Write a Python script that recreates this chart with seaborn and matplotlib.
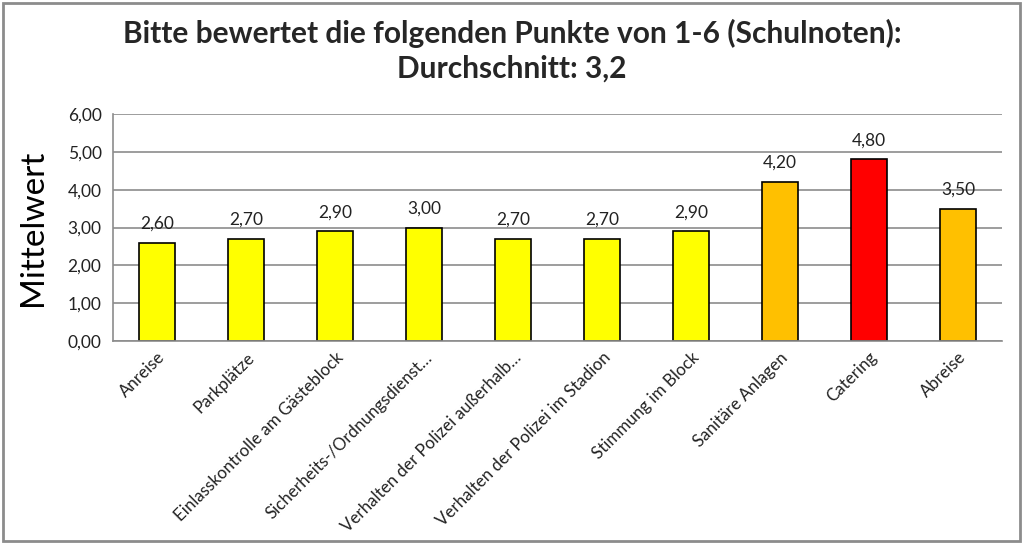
import matplotlib
matplotlib.use("Agg")
import matplotlib.pyplot as plt
import seaborn as sns
import pandas as pd
from matplotlib.patches import Rectangle

categories = ["Anreise", "Parkplätze", "Einlasskontrolle am Gästeblock",
              "Sicherheits-/Ordnungsdienst…", "Verhalten der Polizei außerhalb…",
              "Verhalten der Polizei im Stadion", "Stimmung im Block",
              "Sanitäre Anlagen", "Catering", "Abreise"]
values = [2.60, 2.70, 2.90, 3.00, 2.70, 2.70, 2.90, 4.20, 4.80, 3.50]
bar_colors = ["#FFFF00"] * 7 + ["#FFC000", "#FF0000", "#FFC000"]
yticks = [0, 1, 2, 3, 4, 5, 6]

sns.set_theme(style="white")
plt.rcParams['font.family'] = ['Lato', 'DejaVu Sans']

df = pd.DataFrame({"cat": categories, "val": values})

fig = plt.figure(figsize=(10.24, 5.43), dpi=100)
ax = fig.add_axes([0.110, 0.372, 0.869, 0.418])
sns.barplot(data=df, x="cat", y="val", hue="cat", palette=bar_colors,
            legend=False, width=0.4, edgecolor="black", linewidth=1.2, ax=ax,
            saturation=1)

ax.set_ylim(0, 6)
ax.set_yticks(yticks)
ax.set_yticklabels([f"{v:.2f}".replace(".", ",") for v in yticks], fontsize=12.5, color="#222222")
ax.yaxis.grid(True, color="#8c8c8c", linewidth=1.2)
ax.set_axisbelow(True)
ax.set_xlim(-0.5, len(categories) - 0.5)
for s in ["top", "right"]:
    ax.spines[s].set_visible(False)
ax.spines["left"].set_color("#8c8c8c")
ax.spines["bottom"].set_color("#8c8c8c")
ax.spines["left"].set_linewidth(1.2)
ax.spines["bottom"].set_linewidth(1.2)
ax.tick_params(axis="y", length=0, pad=8)
ax.tick_params(axis="x", length=0, pad=6)

ax.set_xticks(range(len(categories)))
ax.set_xticklabels(categories, rotation=45, ha="right", rotation_mode="anchor", fontsize=12.2, color="#222222")
ax.set_xlabel("")
ax.set_ylabel("Mittelwert", fontsize=24, color="black", labelpad=14)

for i, v in enumerate(values):
    ax.annotate(f"{v:.2f}".replace(".", ","), (i, v), xytext=(0, 8), textcoords="offset points",
                ha="center", va="bottom", fontsize=12.5, color="#222222")

fig.suptitle("Bitte bewertet die folgenden Punkte von 1-6 (Schulnoten):\nDurchschnitt: 3,2",
             fontsize=21.5, fontweight="bold", y=0.965, linespacing=1.3)

fig.patches.append(Rectangle((0.003, 0.004), 0.993, 0.99, transform=fig.transFigure,
                             fill=False, edgecolor="#8c8c8c", linewidth=2))

fig.savefig("out.png", dpi=100)
